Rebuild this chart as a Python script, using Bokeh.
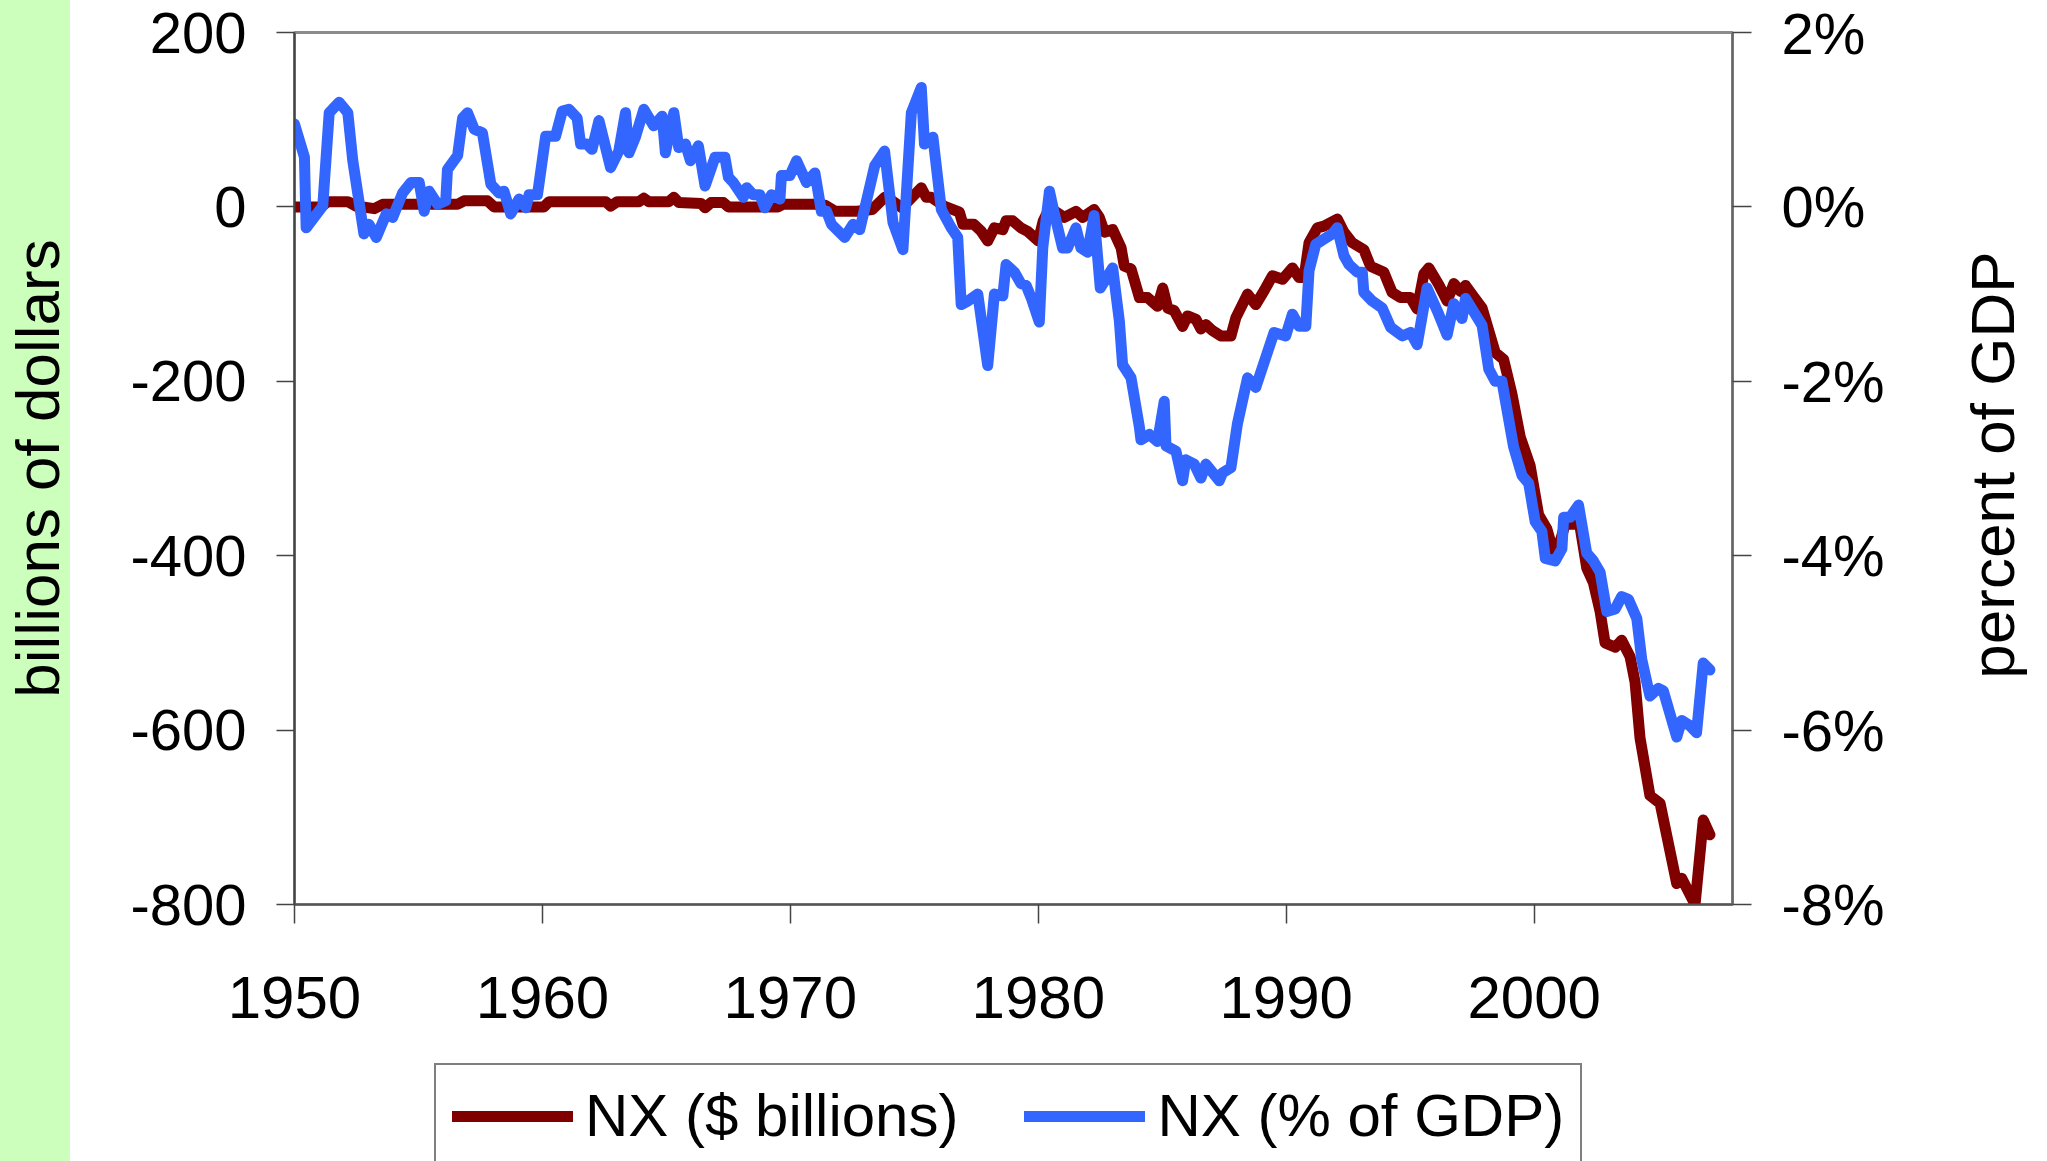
from bokeh.plotting import figure
from bokeh.layouts import row, column
from bokeh.models import (Range1d, LinearAxis, FixedTicker, PrintfTickFormatter,
                          Legend, LegendItem, Title)
from bokeh.embed import file_html
from bokeh.resources import INLINE
from bokeh.core.properties import value

# ---------------- data ----------------
nx_bil_year = [
    1950.0, 1951.07, 1951.34, 1952.15, 1952.48, 1953.22, 1953.56, 1956.58, 1956.84, 1957.78,
    1958.05, 1960.06, 1960.27, 1962.55, 1962.75, 1963.02, 1963.89, 1964.09, 1964.29, 1965.1,
    1965.3, 1965.5, 1966.4, 1966.56, 1966.8, 1967.3, 1967.5, 1969.5, 1969.7, 1971.0,
    1971.4, 1971.8, 1972.7, 1973.3, 1973.8, 1974.1, 1974.5, 1975.28, 1975.48, 1975.68,
    1976.2, 1976.82, 1976.96, 1977.4, 1977.7, 1977.96, 1978.23, 1978.57, 1978.7, 1978.97,
    1979.3, 1979.57, 1980.0, 1980.2, 1980.46, 1981.05, 1981.52, 1981.79, 1982.25, 1982.46,
    1982.67, 1983.0, 1983.34, 1983.47, 1983.74, 1984.08, 1984.41, 1984.81, 1985.02, 1985.22,
    1985.48, 1985.82, 1986.02, 1986.36, 1986.56, 1986.76, 1987.03, 1987.36, 1987.77, 1987.97,
    1988.44, 1988.77, 1989.11, 1989.44, 1989.85, 1990.25, 1990.52, 1990.72, 1990.92, 1991.26,
    1991.52, 1992.06, 1992.33, 1992.66, 1993.13, 1993.4, 1993.94, 1994.27, 1994.61, 1995.01,
    1995.28, 1995.55, 1995.75, 1996.15, 1996.49, 1996.76, 1997.03, 1997.23, 1997.56, 1997.9,
    1998.43, 1998.77, 1999.1, 1999.44, 1999.84, 2000.18, 2000.51, 2000.85, 2001.25, 2001.59,
    2001.79, 2002.12, 2002.39, 2002.66, 2002.86, 2003.27, 2003.53, 2003.87, 2004.07, 2004.27,
    2004.67, 2005.08, 2005.75, 2005.95, 2006.49, 2006.82, 2007.09,
]
nx_bil = [
    0, 0, 6, 6, 1, -2, 3, 3, 7, 7,
    0, 0, 6, 6, 1, 6, 6, 10, 6, 6,
    11, 5, 4, -1, 5, 5, 0, 0, 3, 3,
    2, -5, -5, -3, 11, 7, -1, 22, 11, 11,
    1, -6, -20, -20, -28, -39, -24, -26, -16, -16,
    -24, -28, -39, -16, -1, -12, -5, -12, -3, -12,
    -29, -26, -47, -68, -71, -104, -104, -114, -93, -116,
    -119, -137, -125, -129, -140, -135, -142, -148, -148, -127,
    -100, -112, -96, -79, -83, -70, -81, -81, -41, -24,
    -22, -14, -29, -41, -49, -68, -75, -98, -104, -104,
    -117, -77, -70, -89, -108, -88, -97, -90, -103, -116,
    -167, -175, -214, -264, -297, -353, -369, -403, -364, -364,
    -356, -414, -431, -464, -500, -505, -497, -516, -545, -609,
    -675, -684, -776, -770, -800, -703, -720,
]

nx_pct_year = [
    1950.0, 1950.4, 1950.47, 1951.14, 1951.4, 1951.8, 1952.15, 1952.35, 1952.8, 1953.0,
    1953.3, 1953.7, 1953.96, 1954.36, 1954.7, 1955.03, 1955.23, 1955.43, 1955.77, 1956.1,
    1956.17, 1956.58, 1956.78, 1956.98, 1957.25, 1957.58, 1957.92, 1958.25, 1958.45, 1958.72,
    1959.06, 1959.33, 1959.46, 1959.8, 1960.13, 1960.53, 1960.8, 1961.07, 1961.4, 1961.54,
    1961.8, 1962.0, 1962.28, 1962.75, 1963.08, 1963.35, 1963.49, 1963.75, 1964.09, 1964.49,
    1964.83, 1964.96, 1965.3, 1965.5, 1965.77, 1965.97, 1966.29, 1966.56, 1966.96, 1967.36,
    1967.5, 1967.7, 1968.1, 1968.24, 1968.5, 1968.77, 1968.97, 1969.24, 1969.58, 1969.64,
    1969.98, 1970.25, 1970.65, 1970.99, 1971.25, 1971.46, 1971.66, 1972.19, 1972.53, 1972.8,
    1973.4, 1973.8, 1974.14, 1974.54, 1974.88, 1975.28, 1975.41, 1975.75, 1976.09, 1976.49,
    1976.75, 1976.89, 1977.16, 1977.56, 1977.96, 1978.23, 1978.57, 1978.7, 1979.04, 1979.3,
    1979.51, 1979.71, 1980.04, 1980.18, 1980.45, 1980.65, 1980.98, 1981.18, 1981.52, 1981.72,
    1981.99, 1982.25, 1982.5, 1983.0, 1983.27, 1983.4, 1983.74, 1984.08, 1984.14, 1984.48,
    1984.81, 1985.08, 1985.15, 1985.55, 1985.82, 1985.95, 1986.29, 1986.56, 1986.76, 1987.3,
    1987.43, 1987.77, 1988.03, 1988.44, 1988.77, 1989.51, 1989.98, 1990.25, 1990.52, 1990.79,
    1990.92, 1991.19, 1991.52, 1991.86, 1992.06, 1992.33, 1992.53, 1992.87, 1993.07, 1993.13,
    1993.47, 1993.87, 1994.21, 1994.68, 1995.01, 1995.28, 1995.68, 1996.09, 1996.49, 1996.76,
    1997.09, 1997.23, 1997.9, 1998.17, 1998.43, 1998.7, 1999.17, 1999.51, 1999.78, 2000.04,
    2000.31, 2000.45, 2000.85, 2001.12, 2001.19, 2001.45, 2001.79, 2002.12, 2002.39, 2002.66,
    2002.93, 2003.27, 2003.53, 2003.8, 2004.14, 2004.34, 2004.67, 2005.01, 2005.21, 2005.75,
    2005.95, 2006.28, 2006.55, 2006.82, 2007.09,
]
nx_pct = [
    0.95, 0.57, -0.24, 0.01, 1.08, 1.20, 1.08, 0.53, -0.31, -0.20,
    -0.35, -0.08, -0.12, 0.16, 0.28, 0.28, -0.05, 0.18, 0.03, 0.07,
    0.43, 0.59, 1.02, 1.08, 0.89, 0.85, 0.26, 0.16, 0.18, -0.08,
    0.09, -0.01, 0.14, 0.14, 0.81, 0.81, 1.10, 1.12, 1.02, 0.72,
    0.72, 0.66, 0.99, 0.45, 0.64, 1.08, 0.62, 0.80, 1.12, 0.93,
    1.04, 0.62, 1.08, 0.68, 0.72, 0.53, 0.70, 0.24, 0.57, 0.57,
    0.34, 0.28, 0.11, 0.22, 0.14, 0.14, -0.01, 0.14, 0.09, 0.36,
    0.36, 0.53, 0.28, 0.39, -0.05, -0.05, -0.20, -0.35, -0.20, -0.26,
    0.47, 0.64, -0.18, -0.49, 1.08, 1.37, 0.72, 0.80, -0.03, -0.24,
    -0.35, -1.12, -1.08, -1.00, -1.82, -1.00, -1.02, -0.66, -0.75, -0.88,
    -0.90, -1.04, -1.32, -0.47, 0.18, -0.08, -0.47, -0.47, -0.24, -0.47,
    -0.52, -0.10, -0.93, -0.70, -1.31, -1.81, -1.96, -2.53, -2.67, -2.61,
    -2.69, -2.23, -2.74, -2.80, -3.14, -2.90, -2.95, -3.11, -2.95, -3.14,
    -3.05, -2.99, -2.49, -1.96, -2.07, -1.44, -1.48, -1.23, -1.37, -1.37,
    -0.73, -0.43, -0.37, -0.31, -0.24, -0.56, -0.66, -0.75, -0.75, -0.98,
    -1.08, -1.16, -1.38, -1.48, -1.44, -1.58, -0.93, -1.19, -1.47, -1.11,
    -1.28, -1.05, -1.36, -1.86, -2.00, -2.00, -2.75, -3.08, -3.17, -3.61,
    -3.72, -4.03, -4.06, -3.92, -3.56, -3.56, -3.42, -3.97, -4.06, -4.19,
    -4.64, -4.61, -4.47, -4.50, -4.72, -5.19, -5.61, -5.52, -5.55, -6.08,
    -5.89, -5.95, -6.03, -5.23, -5.31,
]

year_ticks = [1950, 1960, 1970, 1980, 1990, 2000]
bil_ticks = [-800, -600, -400, -200, 0, 200]
pct_ticks = [-8, -6, -4, -2, 0, 2]

series_labels = ["NX ($ billions)", "NX (% of GDP)"]
left_title = "billions of dollars"
right_title = "percent of GDP"

# ---------------- layout constants ----------------
FONT = "Liberation Sans"
RED, BLUE = "#800000", "#3366FF"
LW = 11
GREEN_BG = {"background": "linear-gradient(to right, #CCFFBB 0px, #CCFFBB 70px, #FFFFFF 70px, #FFFFFF 100%)"}
MAIN_W, MAIN_H = 1955, 1062          # main chart
LEG_H = 99                           # legend strip below it
RIGHT_W = 2047 - MAIN_W              # strip holding the right-hand title
FR_LEFT, FR_RIGHT, FR_TOP, FR_BOTTOM = 292, 1732, 32, 904

# ---------------- main chart ----------------
p = figure(width=MAIN_W, height=MAIN_H, output_backend="svg", toolbar_location=None,
           x_range=Range1d(1950, 2008), y_range=Range1d(-800, 200),
           min_border_left=FR_LEFT, min_border_right=MAIN_W - FR_RIGHT,
           min_border_top=FR_TOP, min_border_bottom=MAIN_H - FR_BOTTOM)
p.extra_y_ranges = {"pct": Range1d(-8, 2)}
p.xgrid.visible = False
p.ygrid.visible = False
p.background_fill_color = "white"
p.border_fill_color = None
p.styles = GREEN_BG
p.outline_line_color = "#8C8C8C"
p.outline_line_width = 3


def style_axis(ax, out, standoff, line_color, size):
    ax.major_label_text_font = FONT
    ax.major_label_text_font_size = size
    ax.major_label_text_color = "black"
    ax.major_tick_out = out
    ax.major_tick_in = 0
    ax.minor_tick_out = 0
    ax.minor_tick_in = 0
    ax.major_tick_line_color = "#444444"
    ax.major_tick_line_width = 1.5
    ax.axis_line_color = line_color
    ax.axis_line_width = 2
    ax.major_label_standoff = standoff
    ax.axis_label_text_font = FONT
    ax.axis_label_text_font_style = "normal"
    ax.axis_label_text_color = "black"


xa = p.xaxis[0]
xa.ticker = FixedTicker(ticks=year_ticks)
xa.formatter = PrintfTickFormatter(format="%d")
style_axis(xa, 19, 53, "#555555", "60px")

ya = p.yaxis[0]
ya.ticker = FixedTicker(ticks=bil_ticks)
ya.formatter = PrintfTickFormatter(format="%d")
style_axis(ya, 18, 30, "#444444", "58px")
ya.axis_label = left_title
ya.axis_label_text_font_size = "62px"
ya.axis_label_standoff = 55

ra = LinearAxis(y_range_name="pct")
ra.ticker = FixedTicker(ticks=pct_ticks)
ra.formatter = PrintfTickFormatter(format="%d%%")
style_axis(ra, 19, 30, "#666666", "58px")
p.add_layout(ra, "right")

r1 = p.line(nx_bil_year, nx_bil, line_color=RED, line_width=LW,
            line_join="round", line_cap="round")
r2 = p.line(nx_pct_year, nx_pct, y_range_name="pct", line_color=BLUE,
            line_width=LW, line_join="round", line_cap="round")

# ---------------- legend strip ----------------
# (its frame is aligned with the main chart's frame by the column layout)
pl = figure(width=MAIN_W, height=LEG_H, output_backend="svg", toolbar_location=None,
            x_axis_type=None, y_axis_type=None,
            x_range=Range1d(0, 1), y_range=Range1d(0, 1),
            min_border_left=0, min_border_right=0, min_border_top=0, min_border_bottom=0)
pl.outline_line_color = None
pl.background_fill_color = None
pl.border_fill_color = None
pl.styles = GREEN_BG
# legend keys only: their points lie outside this strip's ranges, so nothing but the keys shows
k1 = pl.line(x=[-10, -9], y=[-10, -9], line_color=RED, line_width=LW, line_cap="round")
k2 = pl.line(x=[-10, -9], y=[-10, -9], line_color=BLUE, line_width=LW, line_cap="round")
legend = Legend(items=[LegendItem(label=value(series_labels[0]), renderers=[k1]),
                       LegendItem(label=value(series_labels[1]), renderers=[k2])],
                orientation="horizontal", location=(432 - FR_LEFT, -7), margin=0,
                padding=16, spacing=66, glyph_width=121, glyph_height=68,
                label_height=68, label_standoff=12,
                label_text_font=FONT, label_text_font_size="60px",
                label_text_color="black",
                border_line_color="black", border_line_width=2,
                background_fill_color="white", background_fill_alpha=1.0)
pl.add_layout(legend, "center")

# ---------------- right-hand title strip ----------------
pr = figure(width=RIGHT_W, height=MAIN_H + LEG_H, output_backend="svg", toolbar_location=None,
            x_axis_type=None, y_axis_type=None,
            x_range=Range1d(0, 1), y_range=Range1d(0, 1),
            min_border_left=0, min_border_right=0, min_border_top=0,
            min_border_bottom=MAIN_H + LEG_H - 929)
pr.outline_line_color = None
pr.background_fill_color = None
pr.border_fill_color = None
pr.add_layout(Title(text=right_title, align="center", text_font=FONT,
                    text_font_size="62px", text_font_style="normal",
                    text_color="black", standoff=0, offset=0), "left")

layout = row(column(p, pl), pr)
open("out.html", "w").write(file_html(layout, INLINE, title="NX"))
